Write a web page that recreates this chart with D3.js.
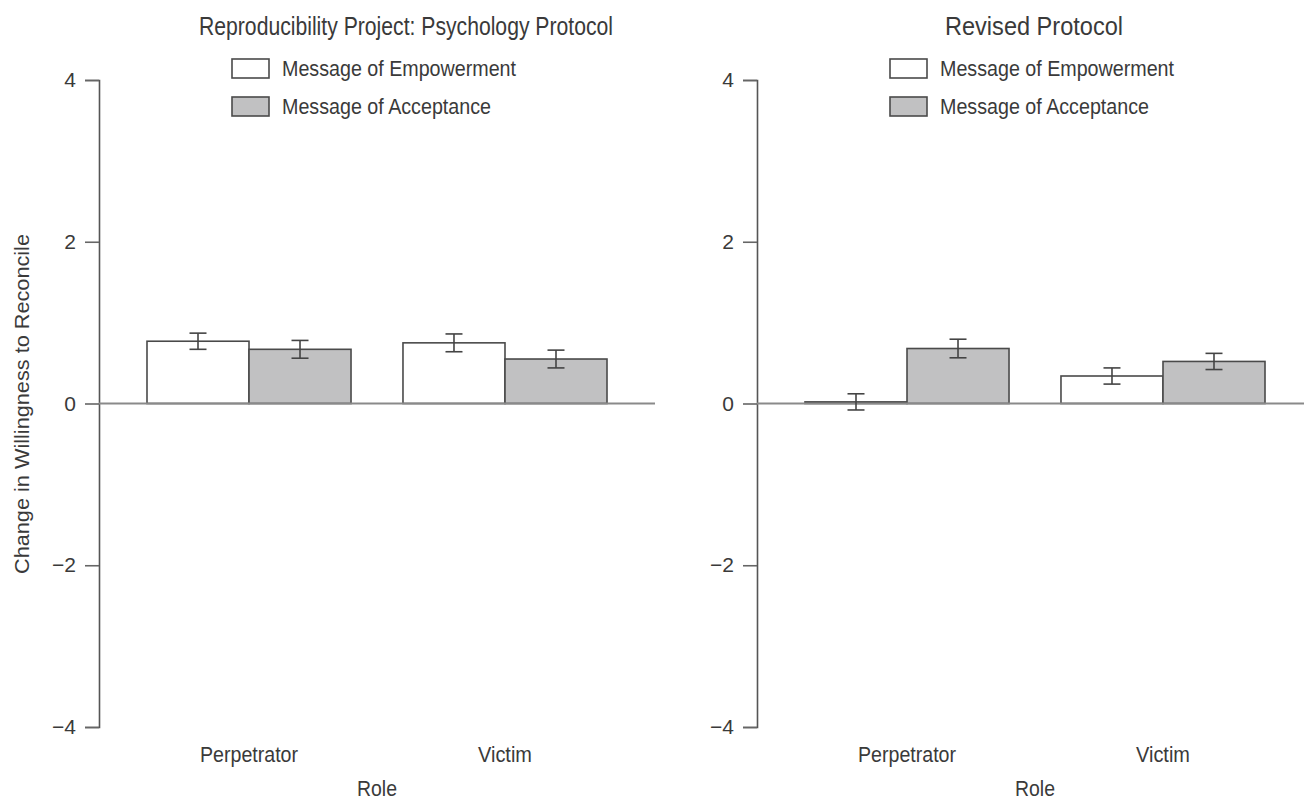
<!DOCTYPE html>
<html>
<head>
<meta charset="utf-8">
<script src="https://d3js.org/d3.v7.min.js"></script>
<style>
  body { margin: 0; background: #fff; }
  text { font-family: "Liberation Sans", Arial, sans-serif; fill: #3a3a3a; }
</style>
</head>
<body>
<script>

// categories and series
var roles = ["Perpetrator", "Victim"];
var messages = ["Message of Empowerment", "Message of Acceptance"];
var panelTitles = ["Reproducibility Project: Psychology Protocol", "Revised Protocol"];
var yTicks = [-4, -2, 0, 2, 4];

// left panel: RP:P protocol
var rppEmpower = [0.77, 0.75];
var rppEmpowerErr = [0.10, 0.11];
var rppAccept = [0.67, 0.55];
var rppAcceptErr = [0.11, 0.11];

// right panel: revised protocol
var revEmpower = [0.02, 0.34];
var revEmpowerErr = [0.10, 0.10];
var revAccept = [0.68, 0.52];
var revAcceptErr = [0.115, 0.10];

var w = 1304, h = 800;
var fills = ["#ffffff", "#c1c1c2"];

// condensed look: squeeze text to the width it has in the figure
var textWidths = {
  "Reproducibility Project: Psychology Protocol": 414,
  "Revised Protocol": 178,
  "Message of Empowerment": 234,
  "Message of Acceptance": 209,
  "Perpetrator": 98,
  "Victim": 54,
  "Role": 40,
  "Change in Willingness to Reconcile": 340
};

function squeeze(sel) {
  sel.each(function() {
    var t = d3.select(this);
    var len = textWidths[t.text()];
    if (len) t.attr("textLength", len).attr("lengthAdjust", "spacingAndGlyphs");
  });
}

var svg = d3.select("body").append("svg")
  .attr("width", w)
  .attr("height", h);

var y_scale = d3.scaleLinear()
  .domain([-4, 4])
  .range([727, 80]);

// build rows for one panel
function makeRows(emp, empErr, acc, accErr) {
  var rows = [];
  roles.forEach(function(r, i) {
    rows.push({role: r, msg: messages[0], value: emp[i], err: empErr[i]});
    rows.push({role: r, msg: messages[1], value: acc[i], err: accErr[i]});
  });
  return rows;
}

var panels = [
  {x0: 99, x1: 655, titleX: 406, legendX: 232,
   rows: makeRows(rppEmpower, rppEmpowerErr, rppAccept, rppAcceptErr)},
  {x0: 757, x1: 1313, titleX: 1034, legendX: 890,
   rows: makeRows(revEmpower, revEmpowerErr, revAccept, revAcceptErr)}
];

panels.forEach(function(p, pi) {
  var g = svg.append("g");

  var x_scale = d3.scaleBand()
    .domain(roles)
    .range([p.x0, p.x1])
    .paddingInner(0.203)
    .paddingOuter(0.1875);

  var x_inner = d3.scaleBand()
    .domain(messages)
    .range([0, x_scale.bandwidth()]);

  // y axis
  var yAxis = d3.axisLeft(y_scale)
    .tickValues(yTicks)
    .tickSize(14)
    .tickPadding(9)
    .tickFormat(d3.format("d"));

  var gY = g.append("g")
    .attr("transform", "translate(" + p.x0 + ",0)")
    .call(yAxis);
  gY.select(".domain").attr("stroke", "#555").attr("stroke-width", 1.6);
  gY.selectAll(".tick line").attr("stroke", "#666").attr("stroke-width", 1.6);
  gY.selectAll(".tick text")
    .attr("font-size", 21)
    .style("font-family", "'Liberation Sans', Arial, sans-serif")
    .attr("fill", "#3a3a3a");

  // bars
  g.selectAll("rect.bar")
    .data(p.rows)
    .enter()
    .append("rect")
    .attr("class", "bar")
    .attr("x", function(d) { return x_scale(d.role) + x_inner(d.msg); })
    .attr("y", function(d) { return y_scale(Math.max(0, d.value)); })
    .attr("width", x_inner.bandwidth())
    .attr("height", function(d) { return Math.abs(y_scale(d.value) - y_scale(0)); })
    .attr("fill", function(d) { return d.msg == messages[0] ? fills[0] : fills[1]; })
    .attr("stroke", "#4a4a4a")
    .attr("stroke-width", 1.6);

  // zero line
  g.append("line")
    .attr("x1", p.x0)
    .attr("x2", p.x1)
    .attr("y1", y_scale(0))
    .attr("y2", y_scale(0))
    .attr("stroke", "#8a8a8a")
    .attr("stroke-width", 2);

  // error bars
  var eb = g.selectAll("g.err")
    .data(p.rows)
    .enter()
    .append("g")
    .attr("class", "err")
    .attr("stroke", "#444")
    .attr("stroke-width", 1.6);

  function cx(d) { return x_scale(d.role) + x_inner(d.msg) + x_inner.bandwidth() / 2; }

  eb.append("line")
    .attr("x1", cx).attr("x2", cx)
    .attr("y1", function(d) { return y_scale(d.value + d.err); })
    .attr("y2", function(d) { return y_scale(d.value - d.err); });
  eb.append("line")
    .attr("x1", function(d) { return cx(d) - 8.5; })
    .attr("x2", function(d) { return cx(d) + 8.5; })
    .attr("y1", function(d) { return y_scale(d.value + d.err); })
    .attr("y2", function(d) { return y_scale(d.value + d.err); });
  eb.append("line")
    .attr("x1", function(d) { return cx(d) - 8.5; })
    .attr("x2", function(d) { return cx(d) + 8.5; })
    .attr("y1", function(d) { return y_scale(d.value - d.err); })
    .attr("y2", function(d) { return y_scale(d.value - d.err); });

  // category labels
  g.selectAll("text.cat")
    .data(roles)
    .enter()
    .append("text")
    .attr("class", "cat")
    .attr("x", function(d) { return x_scale(d) + x_scale.bandwidth() / 2; })
    .attr("y", 762)
    .attr("text-anchor", "middle")
    .attr("font-size", 22)
    .text(function(d) { return d; })
    .call(squeeze);

  // x title
  g.append("text")
    .attr("x", (p.x0 + p.x1) / 2)
    .attr("y", 796)
    .attr("text-anchor", "middle")
    .attr("font-size", 22)
    .text("Role")
    .call(squeeze);

  // panel title
  g.append("text")
    .attr("x", p.titleX)
    .attr("y", 35)
    .attr("text-anchor", "middle")
    .attr("font-size", 25)
    .text(panelTitles[pi])
    .call(squeeze);

  // legend
  var leg = g.selectAll("g.leg")
    .data(messages)
    .enter()
    .append("g")
    .attr("class", "leg")
    .attr("transform", function(d, i) { return "translate(" + p.legendX + "," + (59 + i * 38) + ")"; });
  leg.append("rect")
    .attr("width", 37)
    .attr("height", 19)
    .attr("fill", function(d, i) { return fills[i]; })
    .attr("stroke", "#4a4a4a")
    .attr("stroke-width", 1.6);
  leg.append("text")
    .attr("x", 50)
    .attr("y", 17)
    .attr("font-size", 22)
    .text(function(d) { return d; })
    .call(squeeze);
});

// y axis title
svg.append("text")
  .attr("transform", "translate(29,404) rotate(-90)")
  .attr("text-anchor", "middle")
  .attr("font-size", 21)
  .text("Change in Willingness to Reconcile")
  .call(squeeze);

</script>
</body>
</html>
